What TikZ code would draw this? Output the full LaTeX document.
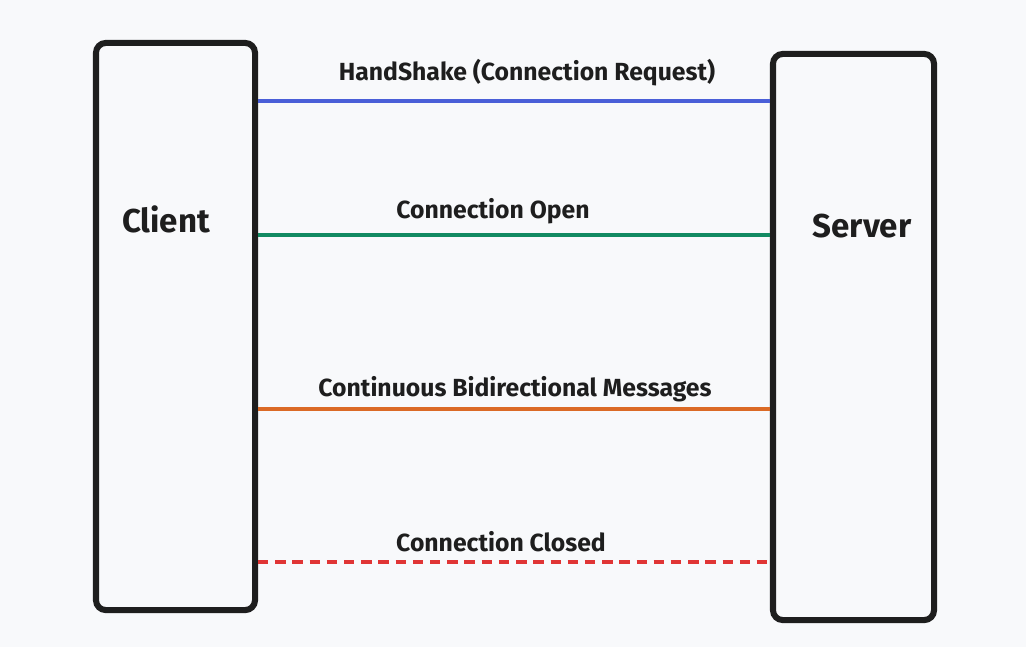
\documentclass[tikz,border=0pt]{standalone}
\usepackage{fontspec}
\setmainfont{Fira Sans}
\usetikzlibrary{positioning}
\definecolor{bgpaper}{HTML}{F8F9FB}
\definecolor{boxline}{HTML}{1E1E1E}
\definecolor{hsblue}{HTML}{4A5FD8}
\definecolor{opengreen}{HTML}{128A62}
\definecolor{msgorange}{HTML}{DB6A26}
\definecolor{closered}{HTML}{E03535}

\tikzset{
  party/.style={draw=boxline, line width=4.3pt, rounded corners=7pt, inner sep=0pt},
  partyname/.style={font=\fontsize{23.5}{26}\selectfont\bfseries, text=boxline},
  msgline/.style={line width=2.6pt},
  msgtext/.style={font=\fontsize{17.6}{20}\selectfont\bfseries, text=boxline, inner sep=0pt}
}

\begin{document}
\begin{tikzpicture}[x=0.025cm, y=-0.025cm]

\fill[bgpaper] (0,0) rectangle (1026,647);
\useasboundingbox (0,0) rectangle (1026,647);

% the two parties
\node[party, minimum width=3.975cm, minimum height=14.175cm] (client) at (175.5,326.5) {};
\node[party, minimum width=4.025cm, minimum height=14.15cm] (server) at (853.5,337) {};

\node[partyname] (clientname) at (166,219) {Client};
\node[partyname] (servername) at (862,226) {Server};

% message rows
\coordinate (hsL) at (client.east |- 0,101);
\coordinate (hsR) at (server.west |- 0,101);
\coordinate (opL) at (client.east |- 0,235);
\coordinate (opR) at (server.west |- 0,235);
\coordinate (msL) at (client.east |- 0,409);
\coordinate (msR) at (server.west |- 0,409);
\coordinate (clL) at (client.east |- 0,562);
\coordinate (clR) at (server.west |- 0,562);

\draw[msgline, hsblue] (hsL) -- (hsR);
\draw[msgline, opengreen] (opL) -- (opR);
\draw[msgline, msgorange] (msL) -- (msR);
\draw[msgline, closered, dash pattern=on 0.26cm off 0.17cm] (clL) -- (clR);

\node[msgtext] (hstext) at (527,73) {HandShake (Connection Request)};
\node[msgtext] (optext) at (493,211) {Connection Open};
\node[msgtext] (mstext) at (515,389) {Continuous Bidirectional Messages};
\node[msgtext] (cltext) at (501,542) {Connection Closed};

\end{tikzpicture}
\end{document}
